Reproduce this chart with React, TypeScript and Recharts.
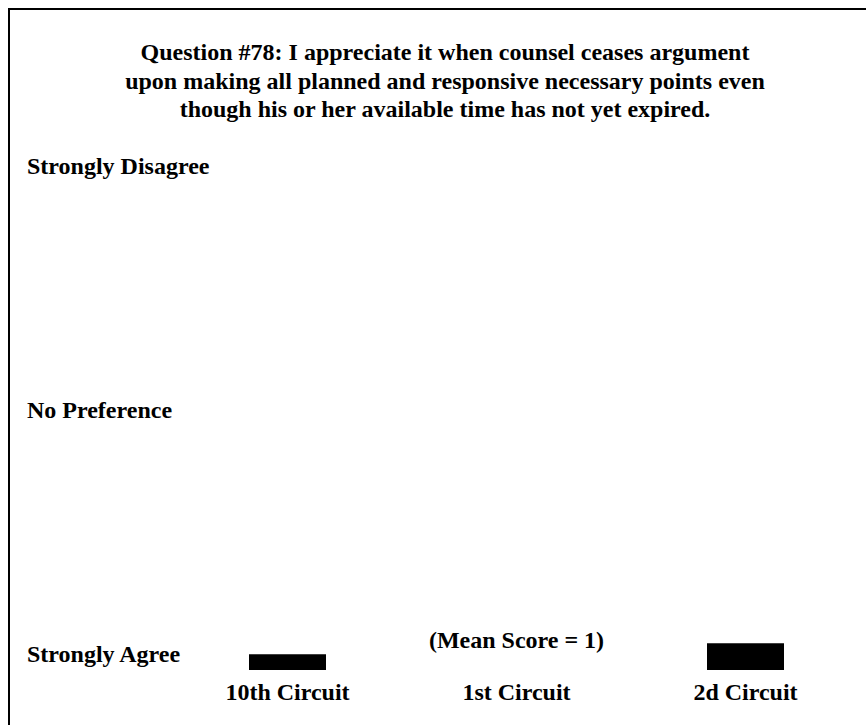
import { Bar, BarChart, XAxis, YAxis } from "recharts";

const circuits = ["10th Circuit", "1st Circuit", "2d Circuit"];
const meanScores = [1.13, 1, 1.22];
const scaleTicks = [1, 3, 5];
const scaleLabels: Record<number, string> = {
  1: "Strongly Agree",
  3: "No Preference",
  5: "Strongly Disagree",
};
const titleLines = [
  "Question #78: I appreciate it when counsel ceases argument",
  "upon making all planned and responsive necessary points even",
  "though his or her available time has not yet expired.",
];

const data = circuits.map((name, i) => ({ name, score: meanScores[i] }));

const FONT = '"Liberation Serif", "Times New Roman", serif';

function ScaleTick({ y, payload }: any) {
  return (
    <text x={17} y={y - 8} textAnchor="start" fontFamily={FONT} fontWeight="bold" fontSize={24} fill="#000">
      {scaleLabels[payload.value]}
    </text>
  );
}

// category label, plus the "(Mean Score = 1)" note where there is no bar to see
function CircuitTick({ x, y, payload, index }: any) {
  const score = meanScores[index];
  return (
    <g>
      {score <= 1 && (
        <text x={x} y={y - 22} textAnchor="middle" fontFamily={FONT} fontWeight="bold" fontSize={24} fill="#000">
          (Mean Score = {score})
        </text>
      )}
      <text x={x} y={y + 30} textAnchor="middle" fontFamily={FONT} fontWeight="bold" fontSize={24} fill="#000">
        {payload.value}
      </text>
    </g>
  );
}

export default function App() {
  return (
    <div style={{ position: "fixed", left: 0, top: 0, width: 866, height: 725, overflow: "hidden", background: "#fff" }}>
      <div
        style={{
          position: "absolute",
          left: 8,
          top: 8,
          width: 870,
          height: 730,
          border: "2px solid #000",
        }}
      >
        <BarChart width={870} height={730} data={data} margin={{ top: 172, right: 20, left: 0, bottom: 40 }}>
          <XAxis dataKey="name" axisLine={false} tickLine={false} tickSize={0} tickMargin={0} tick={<CircuitTick />} interval={0} />
          <YAxis
            type="number"
            domain={[1, 5]}
            ticks={scaleTicks}
            width={163}
            axisLine={false}
            tickLine={false}
            tick={<ScaleTick />}
          />
          <Bar dataKey="score" fill="#000" barSize={77} isAnimationActive={false} />
        </BarChart>
        <div
          style={{
            position: "absolute",
            left: 0,
            top: 28,
            width: 870,
            textAlign: "center",
            fontFamily: FONT,
            fontWeight: "bold",
            fontSize: 24,
            lineHeight: "28.5px",
          }}
        >
          {titleLines.map((line) => (
            <div key={line}>{line}</div>
          ))}
        </div>
      </div>
    </div>
  );
}
